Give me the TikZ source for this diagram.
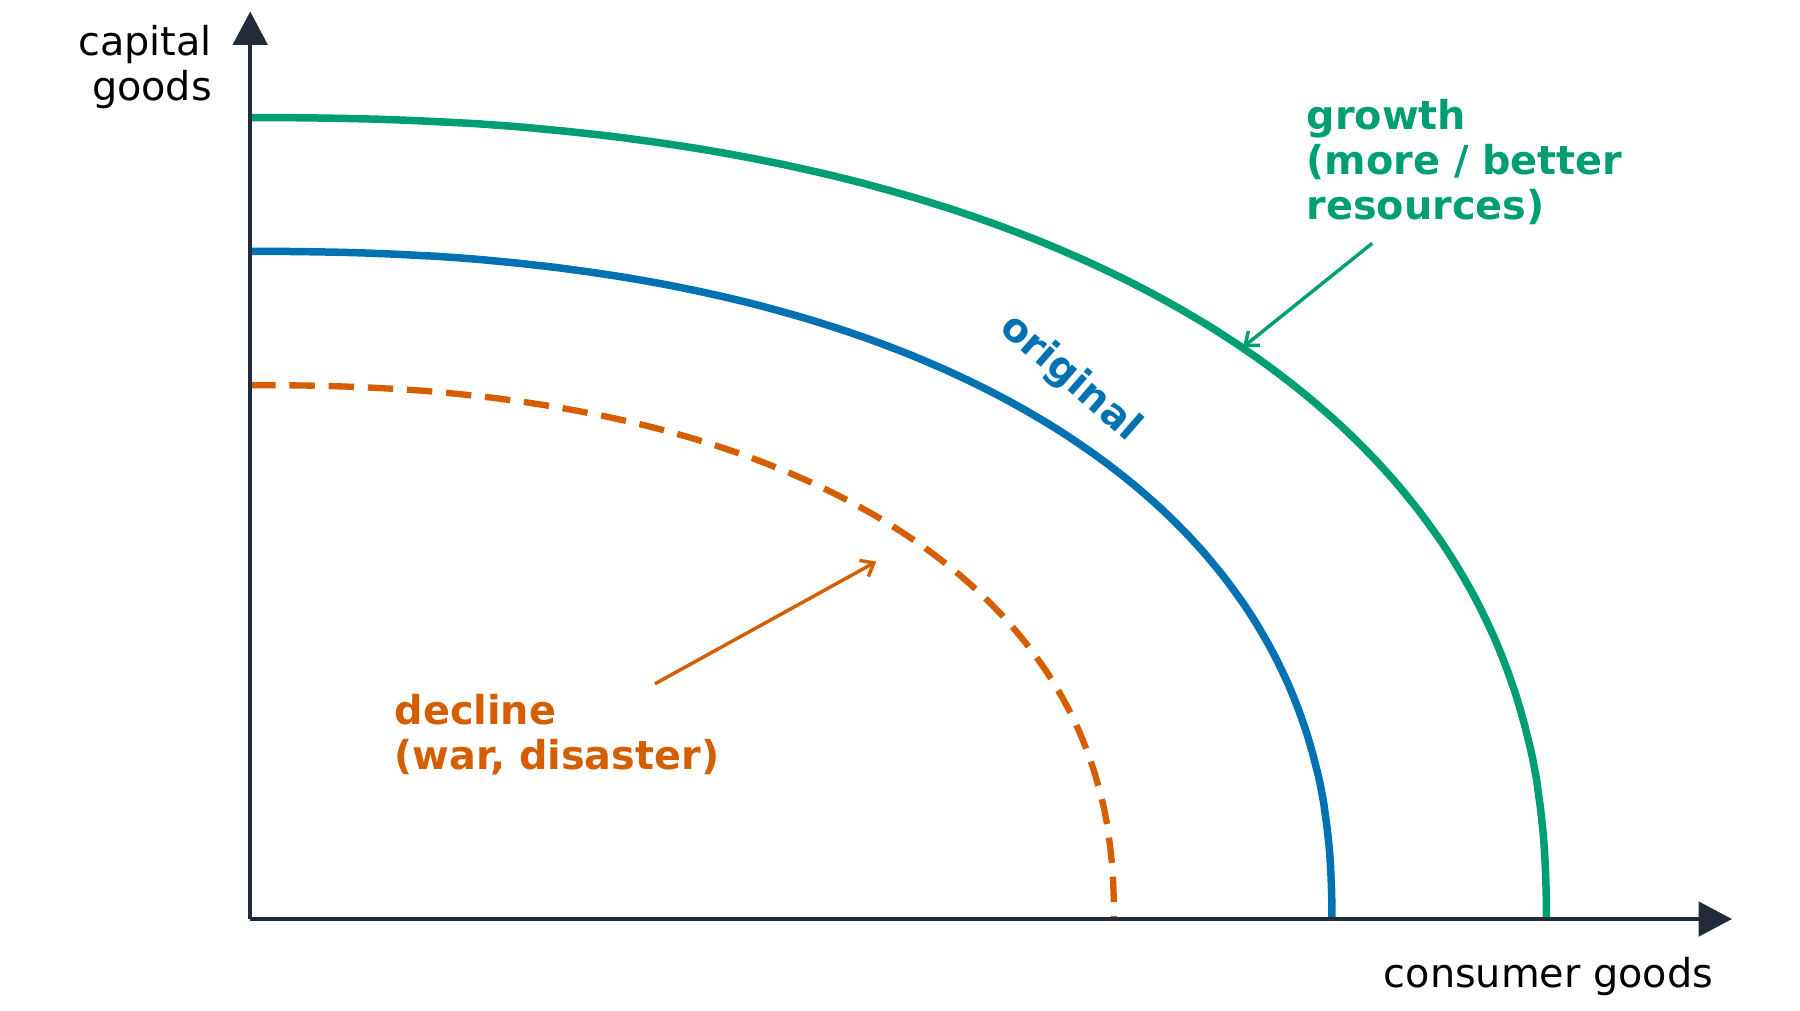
\documentclass[tikz,border=0pt]{standalone}
\usepackage{fontspec}
\setmainfont{DejaVu Sans}
\usetikzlibrary{arrows.meta}
\definecolor{cgreen}{HTML}{009E73}
\definecolor{cblue}{HTML}{0072B2}
\definecolor{corange}{HTML}{D55E00}
\definecolor{caxis}{HTML}{222B3A}
\begin{document}
\begin{tikzpicture}[x=1pt,y=-1pt,
  axis/.style={draw=caxis,line width=3pt,-{Triangle[length=29pt,width=30pt]}},
  curve/.style={line width=6.5pt},
  lbl/.style={font=\fontsize{34.5}{39}\selectfont,text=black,inner sep=0pt},
  blbl/.style={font=\bfseries\fontsize{34.5}{39}\selectfont,inner sep=0pt,align=left},
  pointer/.style={line width=3pt,-{Straight Barb[length=10pt,width=16pt]}}]
\useasboundingbox (0,0) rectangle (1561,876);
\coordinate (O) at (217,797);
\coordinate (ytip) at (217,10);
\coordinate (xtip) at (1502,797);
\def\p{0.87}
\draw[curve,cgreen] plot[domain=0:90,samples=120,variable=\t]
  ({217+1124*pow(cos(\t),\p)},{797-695*pow(sin(\t),\p)});
\draw[curve,cblue] plot[domain=0:90,samples=120,variable=\t]
  ({217+938*pow(cos(\t),\p)},{797-579*pow(sin(\t),\p)});
\draw[curve,corange,line width=5.5pt,dash pattern=on 22pt off 12pt] plot[domain=90:0,samples=120,variable=\t]
  ({217+749*pow(cos(\t),\p)},{797-463*pow(sin(\t),\p)});
\draw[axis] (O) -- (ytip);
\draw[axis] (O) -- (xtip);
\node[lbl,align=right,anchor=north east] (ylab) at (184,22) {capital\\goods};
\node[lbl,anchor=north east] (xlab) at (1486,830) {consumer goods};
\node[blbl,text=cgreen,anchor=north west] (glab) at (1133,86) {growth\\(more / better\\resources)};
\node[blbl,text=corange,anchor=north west] (dlab) at (342,602) {decline\\(war, disaster)};
\node[blbl,text=cblue,rotate=-41] (olab) at (928,328) {original};
\coordinate (gs) at (1190,211); \coordinate (ge) at (1078,301);
\coordinate (ds) at (568,593); \coordinate (de) at (760,487);
\draw[pointer,cgreen] (gs) -- (ge);
\draw[pointer,corange] (ds) -- (de);
\end{tikzpicture}
\end{document}
